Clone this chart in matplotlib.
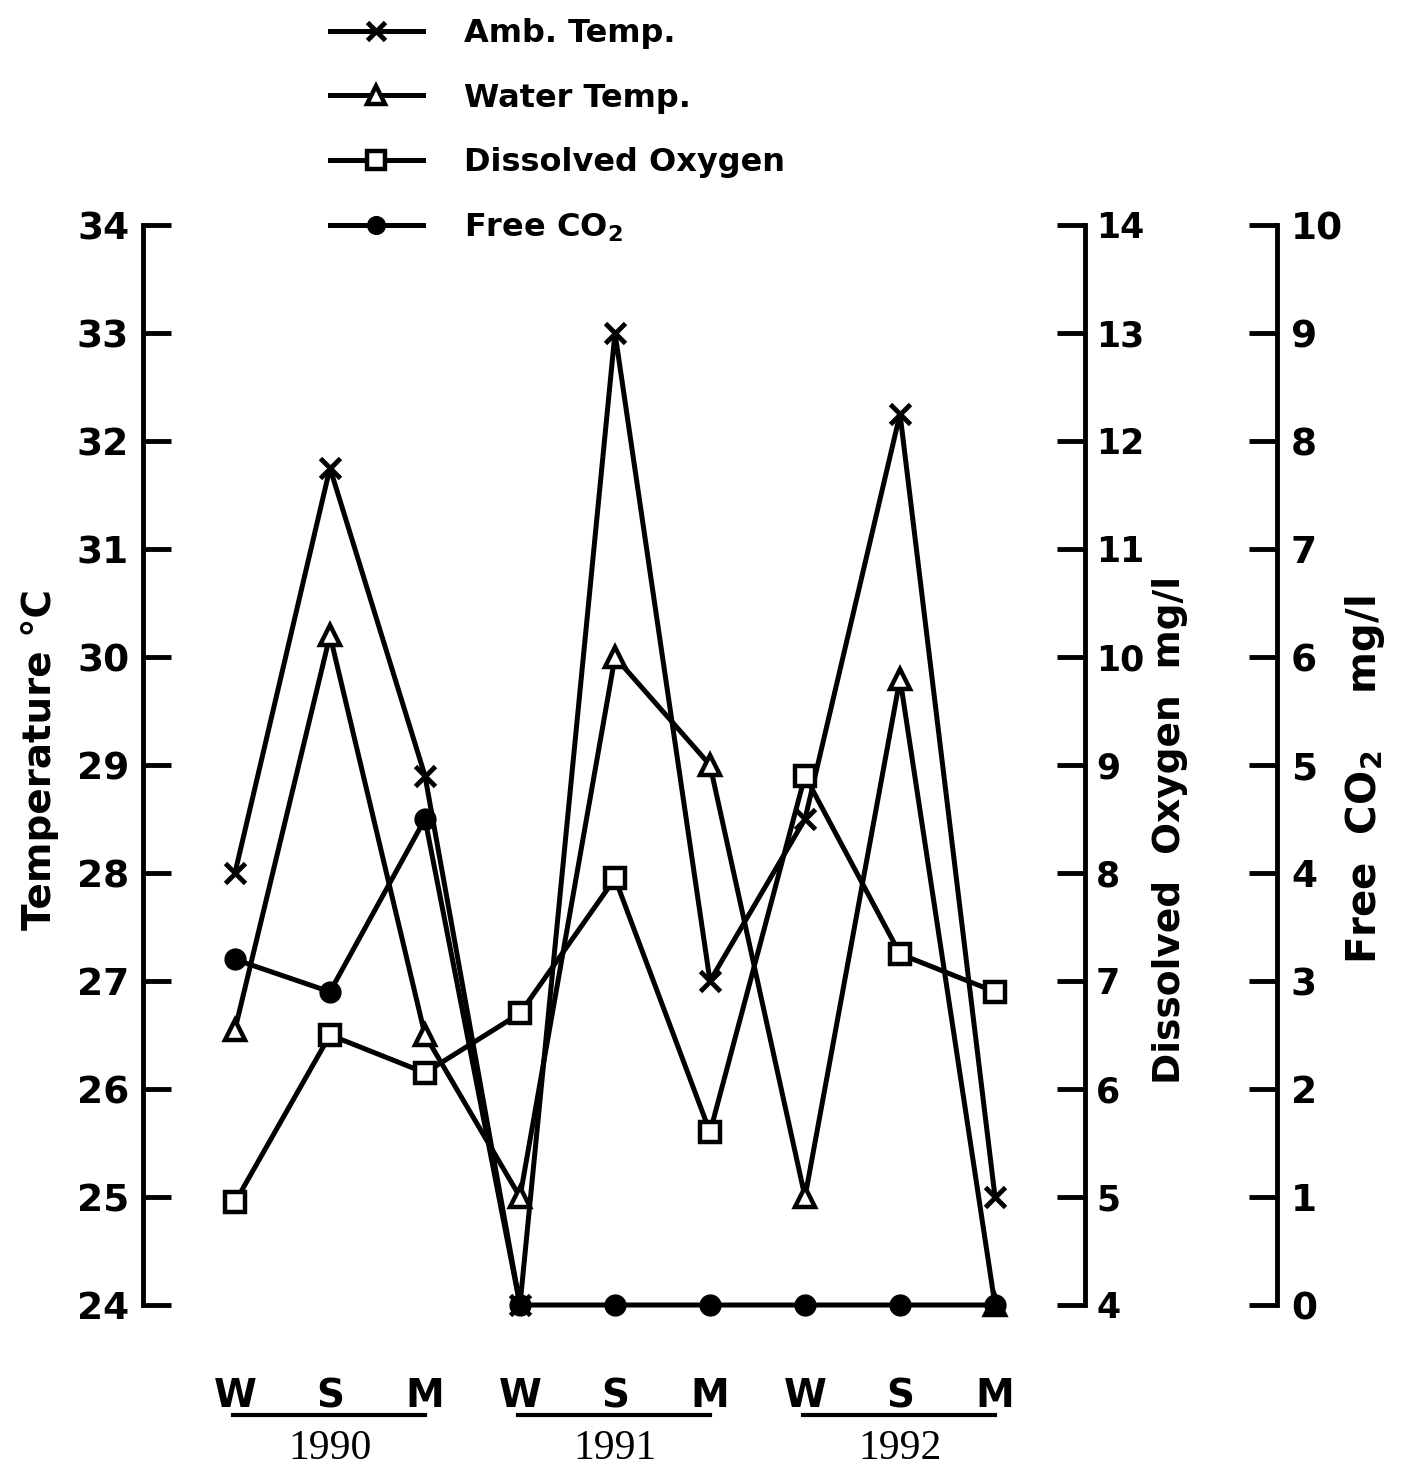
import matplotlib
matplotlib.use('Agg')
import matplotlib.pyplot as plt
from matplotlib.transforms import blended_transform_factory

plt.rcParams['font.family'] = 'DejaVu Sans'
plt.rcParams['font.weight'] = 'bold'
plt.rcParams['mathtext.fontset'] = 'custom'
plt.rcParams['mathtext.rm'] = 'DejaVu Sans:bold'
plt.rcParams['mathtext.default'] = 'rm'

# seasons (winter, summer, monsoon) for three years
seasons = ['W', 'S', 'M', 'W', 'S', 'M', 'W', 'S', 'M']
years = ['1990', '1991', '1992']

amb_temp = [28.0, 31.75, 28.9, 24.0, 33.0, 27.0, 28.5, 32.25, 25.0]
water_temp = [26.55, 30.2, 26.5, 25.0, 30.0, 29.0, 25.0, 29.8, 24.0]
dissolved_o2 = [4.95, 6.5, 6.15, 6.7, 7.95, 5.6, 8.9, 7.25, 6.9]
free_co2 = [3.2, 2.9, 4.5, 0, 0, 0, 0, 0, 0]

x = list(range(len(seasons)))

fig = plt.figure(figsize=(14.2, 14.71), dpi=100)
W, H = 1420, 1471
ax = fig.add_axes([143 / W, 1 - 1305 / H, (1085 - 143) / W, 1080 / H])
ax.patch.set_visible(False)
ax2 = ax.twinx()
ax3 = ax.twinx()

lw = 3.6
ms = 15
amb_line, = ax.plot(x, amb_temp, color='black', lw=lw, marker='x', ms=ms,
                    mew=3.5, label='Amb. Temp.', clip_on=False)
water_line, = ax.plot(x, water_temp, color='black', lw=lw, marker='^', ms=ms,
                      mew=3.2, mfc='white', label='Water Temp.', clip_on=False)
do_line, = ax2.plot(x, dissolved_o2, color='black', lw=lw, marker='s', ms=ms,
                    mew=3.2, mfc='white', label='Dissolved Oxygen',
                    clip_on=False)
co2_line, = ax3.plot(x, free_co2, color='black', lw=lw, marker='o', ms=ms,
                     label='Free CO$_2$', clip_on=False)

ax.set_xlim(-0.968, 8.947)
ax.set_ylim(24, 34)
ax2.set_ylim(4, 14)
ax3.set_ylim(0, 10)

for a in (ax, ax2, ax3):
    for s in a.spines.values():
        s.set_visible(False)
        s.set_linewidth(3.5)

ax.spines['left'].set_visible(True)
ax2.spines['right'].set_visible(True)
ax3.spines['right'].set_visible(True)
ax3.spines['right'].set_position(('axes', (1277 - 143) / (1085 - 143)))

ax.set_yticks(range(24, 35))
ax2.set_yticks(range(4, 15))
ax3.set_yticks(range(0, 11))
for a in (ax, ax2, ax3):
    a.tick_params(axis='y', direction='in', length=20, width=3.5,
                  labelsize=27, pad=10)
    for t in a.get_yticklabels():
        t.set_fontweight('bold')
ax2.tick_params(axis='y', labelsize=25, pad=8)

ax.set_xticks(x)
ax.set_xticklabels(seasons, fontsize=28, fontweight='bold')
ax.tick_params(axis='x', length=0, pad=52)

# year underlines and labels below the season letters
tr = blended_transform_factory(ax.transData, ax.transAxes)
for i, yr in enumerate(years):
    start = 3 * i
    ax.plot([start - 0.02, start + 2.0], [-0.102, -0.102], color='black',
            lw=3, transform=tr, clip_on=False)
    ax.text(start + 1, -0.133, yr, transform=tr, ha='center', va='center',
            fontsize=30, fontweight='normal', family='Liberation Serif')

fig.text(40 / W, 1 - 760 / H, 'Temperature °C', rotation=90,
         ha='center', va='center', fontsize=28, fontweight='bold')
fig.text(1170 / W, 1 - 830 / H, 'Dissolved  Oxygen  mg/l', rotation=90,
         ha='center', va='center', fontsize=27, fontweight='bold')
fig.text(1365 / W, 1 - 780 / H, 'Free  CO$_2$    mg/l', rotation=90,
         ha='center', va='center', fontsize=29, fontweight='bold')

fig.legend(handles=[amb_line, water_line, do_line, co2_line],
           loc='upper left', bbox_to_anchor=(330 / W, 1 - 18 / H),
           frameon=False, fontsize=23, handlelength=2.9, handletextpad=1.3,
           labelspacing=1.05, borderaxespad=0, borderpad=0, markerscale=0.85)

fig.savefig('out.png', dpi=100)
